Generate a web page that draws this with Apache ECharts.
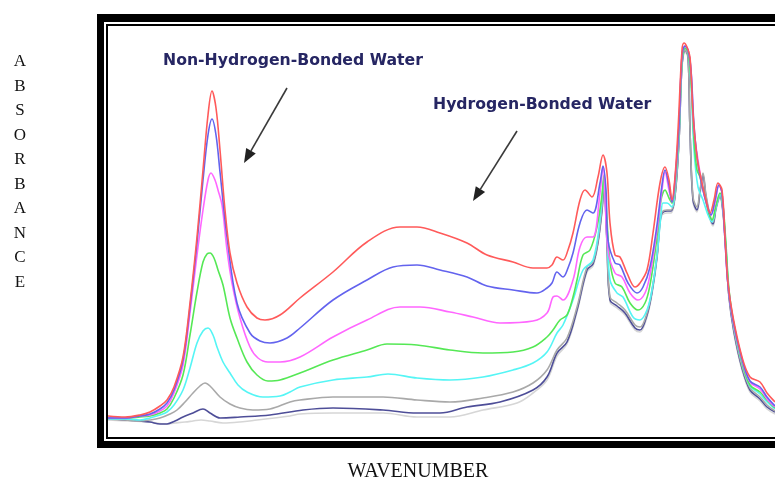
<!DOCTYPE html>
<html>
<head>
<meta charset="utf-8">
<script src="https://cdn.jsdelivr.net/npm/echarts@6/dist/echarts.min.js"></script>
<style>
html,body{margin:0;padding:0;background:#fff;}
#c{width:775px;height:481px;}
</style>
</head>
<body>
<div id="c"></div>
<script>
// x: wavenumber index (arbitrary units), y: absorbance (arbitrary units)
const seriesNames = ['S1','S2','S3','S4','S5','S6','S7','S8'];
const seriesColors = ['#ff5a5a','#6363ee','#ff66ff','#55e855','#55f5f5','#a9a9a9','#4e4e98','#d6d6d6'];

const red = [[0,21],[17,20],[32,22],[42,25],[52,31],[59,37],[66,50],[75,80],[82,134],[89,200],[95,267],[100,322],[104,346],[108,329],[112,287],[117,227],[122,184],[129,154],[139,130],[149,119],[157,117],[172,122],[192,139],[225,165],[259,195],[292,210],[309,210],[332,204],[359,194],[379,182],[405,175],[425,169],[439,169],[444,172],[449,180],[455,177],[460,187],[465,204],[472,237],[477,247],[484,240],[490,260],[495,282],[499,264],[502,214],[507,182],[512,180],[519,164],[527,150],[532,154],[539,167],[545,204],[552,254],[557,270],[561,257],[564,237],[567,260],[570,307],[574,387],[576,394],[579,390],[582,380],[585,324],[589,280],[594,254],[598,237],[602,224],[606,237],[610,254],[614,247],[617,200],[620,154],[625,120],[634,80],[642,60],[652,55],[659,44],[667,35]];

const blue = [[0,19],[17,19],[32,21],[42,23],[52,28],[59,34],[66,47],[75,77],[82,130],[89,194],[95,257],[100,302],[104,318],[108,302],[112,265],[119,200],[129,134],[142,104],[152,96],[162,94],[179,99],[192,109],[225,137],[259,157],[285,170],[309,172],[332,167],[359,160],[379,151],[405,147],[429,144],[439,149],[444,154],[449,165],[455,160],[460,169],[465,184],[472,214],[479,227],[485,224],[492,254],[495,271],[498,247],[500,197],[507,174],[512,172],[520,154],[529,144],[535,150],[542,170],[549,212],[554,252],[557,267],[561,252],[564,235],[567,257],[571,312],[574,382],[577,391],[580,387],[583,367],[586,312],[590,272],[595,247],[599,232],[603,222],[607,237],[611,252],[614,244],[617,197],[620,152],[625,117],[634,78],[642,56],[652,50],[659,40],[667,31]];

const magenta = [[0,19],[17,19],[32,21],[42,22],[52,26],[59,31],[66,44],[75,72],[82,124],[89,182],[95,227],[100,257],[103,264],[107,257],[110,247],[114,232],[119,187],[124,154],[132,119],[142,90],[150,79],[160,75],[172,75],[192,80],[225,100],[259,117],[292,130],[312,130],[342,125],[365,120],[392,114],[425,116],[439,124],[445,140],[449,141],[455,137],[465,157],[472,190],[479,200],[485,200],[492,244],[495,270],[500,187],[507,164],[514,160],[522,144],[530,137],[537,144],[542,162],[549,207],[554,247],[557,265],[561,247],[564,235],[567,255],[571,312],[574,382],[577,391],[580,387],[583,367],[586,307],[590,277],[595,247],[599,232],[603,222],[607,234],[611,252],[614,244],[617,197],[620,152],[625,117],[634,77],[642,55],[652,48],[659,38],[667,30]];

const green = [[0,19],[17,19],[32,20],[42,21],[52,24],[59,28],[66,39],[75,62],[82,102],[89,145],[95,175],[99,183],[102,184],[106,179],[110,167],[115,152],[122,119],[129,99],[139,75],[149,62],[160,56],[172,57],[192,64],[225,77],[259,87],[279,93],[309,92],[342,87],[375,84],[405,85],[425,90],[439,100],[445,107],[452,117],[459,122],[465,140],[469,157],[475,182],[482,187],[489,210],[494,242],[496,262],[499,217],[502,175],[507,154],[514,150],[522,134],[530,127],[537,134],[542,152],[548,192],[553,237],[557,247],[561,239],[564,234],[567,252],[571,307],[574,377],[577,389],[580,385],[583,357],[586,297],[589,267],[592,260],[596,244],[600,227],[604,217],[608,232],[612,244],[615,232],[618,192],[621,147],[626,112],[634,75],[642,52],[652,45],[659,37],[667,29]];

const cyan = [[0,18],[17,18],[32,17],[42,19],[52,22],[59,25],[66,32],[75,47],[82,69],[89,94],[95,106],[100,109],[105,102],[109,90],[115,75],[122,64],[130,52],[139,45],[155,40],[172,41],[182,45],[192,50],[225,57],[259,60],[280,63],[309,59],[342,57],[375,60],[405,67],[425,74],[439,85],[449,104],[455,112],[465,137],[475,167],[485,177],[492,217],[496,259],[499,207],[502,157],[509,144],[515,140],[525,120],[532,117],[539,127],[544,147],[549,182],[553,222],[555,234],[559,234],[564,230],[567,247],[571,302],[574,375],[577,389],[580,385],[583,352],[586,287],[590,250],[595,237],[600,222],[604,215],[608,230],[612,242],[615,229],[618,189],[621,145],[626,110],[634,74],[642,51],[652,43],[659,35],[667,28]];

const gray = [[0,18],[17,17],[32,16],[42,17],[52,19],[62,23],[69,27],[77,35],[85,44],[92,51],[97,54],[102,51],[112,40],[122,33],[132,29],[145,27],[162,28],[182,35],[192,37],[225,40],[275,40],[309,37],[342,35],[375,39],[405,45],[425,54],[439,67],[449,87],[459,99],[469,130],[479,170],[485,175],[490,197],[494,230],[496,255],[499,197],[502,140],[509,134],[517,127],[527,112],[532,110],[539,124],[544,147],[549,182],[552,217],[554,225],[559,227],[563,227],[567,242],[571,297],[574,372],[577,387],[580,382],[582,307],[585,240],[589,230],[592,247],[595,264],[598,242],[602,222],[605,215],[608,230],[612,242],[615,227],[618,187],[621,142],[626,107],[634,71],[642,49],[652,40],[659,32],[667,26]];

const navy = [[0,19],[17,17],[32,16],[42,15],[52,13],[59,13],[67,16],[75,20],[85,24],[95,28],[102,24],[112,19],[132,20],[162,22],[195,27],[225,29],[275,27],[309,24],[332,24],[359,30],[392,35],[425,47],[439,60],[449,84],[459,95],[469,127],[479,167],[485,173],[490,195],[494,227],[496,252],[499,194],[502,137],[509,131],[517,124],[527,109],[532,107],[539,122],[544,145],[549,180],[552,215],[554,224],[559,226],[563,226],[567,241],[571,297],[574,372],[577,387],[580,381],[582,307],[585,237],[589,227],[592,245],[595,262],[598,240],[602,220],[605,213],[608,229],[612,241],[615,225],[618,185],[621,140],[626,105],[634,69],[642,47],[652,38],[659,30],[667,25]];

const lightGray = [[0,17],[22,16],[42,15],[57,13],[67,14],[77,15],[85,16],[93,17],[102,16],[115,14],[132,15],[149,17],[182,21],[192,23],[225,24],[275,24],[309,20],[342,20],[375,27],[409,34],[425,44],[439,57],[449,81],[459,93],[469,125],[479,165],[485,171],[490,193],[494,225],[496,250],[499,192],[502,135],[509,129],[517,122],[527,107],[532,105],[539,120],[544,143],[549,178],[552,213],[554,222],[559,224],[563,224],[567,239],[571,295],[574,370],[577,385],[580,379],[582,305],[585,235],[589,225],[592,243],[595,260],[598,238],[602,218],[605,211],[608,227],[612,239],[615,223],[618,183],[621,138],[626,103],[634,67],[642,45],[652,36],[659,28],[667,23]];

const allData = [red, blue, magenta, green, cyan, gray, navy, lightGray];
const annotations = ['Non-Hydrogen-Bonded Water', 'Hydrogen-Bonded Water'];
const yTitle = 'ABSORBANCE';
const xTitle = 'WAVENUMBER';

const chart = echarts.init(document.getElementById('c'));

const series = [];
for (let i = allData.length - 1; i >= 0; i--) {
  series.push({
    name: seriesNames[i],
    type: 'line',
    data: allData[i],
    showSymbol: false,
    symbol: 'none',
    smooth: 0.35,
    lineStyle: { color: seriesColors[i], width: 1.6 },
    z: 5 + (allData.length - i),
    silent: true,
    animation: false
  });
}

const letters = yTitle.split('').map((ch, i) => ({
  type: 'text',
  style: { text: ch, x: 20, y: 62 + i * 24.5, fill: '#111', font: '17px "Liberation Serif", serif', textAlign: 'center', textVerticalAlign: 'middle' }
}));

function arrow(x1, y1, x2, y2) {
  const dx = x2 - x1, dy = y2 - y1, L = Math.sqrt(dx*dx + dy*dy);
  const ux = dx / L, uy = dy / L;
  const hl = 14, hw = 5.5;
  const bx = x2 - ux * hl, by = y2 - uy * hl;
  return [
    { type: 'line', shape: { x1: x1, y1: y1, x2: bx, y2: by }, style: { stroke: '#3a3a3a', lineWidth: 1.6 }, z: 20 },
    { type: 'polygon', shape: { points: [[x2, y2], [bx - uy * hw, by + ux * hw], [bx + uy * hw, by - ux * hw]] }, style: { fill: '#222' }, z: 20 }
  ];
}

const graphics = [
  { type: 'rect', shape: { x: 97, y: 14, width: 700, height: 434 }, style: { fill: '#000' }, z: -10, silent: true },
  { type: 'rect', shape: { x: 104, y: 22, width: 700, height: 419 }, style: { fill: '#fff' }, z: -9, silent: true },
  { type: 'rect', shape: { x: 107, y: 25, width: 700, height: 413 }, style: { fill: '#fff', stroke: '#000', lineWidth: 2 }, z: -8, silent: true },
  { type: 'text', style: { text: annotations[0], x: 163, y: 61, fill: '#262663', font: 'bold 15.7px "DejaVu Sans", sans-serif', textVerticalAlign: 'middle' }, z: 20 },
  { type: 'text', style: { text: annotations[1], x: 433, y: 104.5, fill: '#262663', font: 'bold 15.7px "DejaVu Sans", sans-serif', textVerticalAlign: 'middle' }, z: 20 },
  { type: 'text', style: { text: xTitle, x: 418, y: 472, fill: '#111', font: '20px "Liberation Serif", serif', textAlign: 'center', textVerticalAlign: 'middle' }, z: 20 }
].concat(letters).concat(arrow(287, 88, 244, 163)).concat(arrow(517, 131, 473, 201));

chart.setOption({
  animation: false,
  backgroundColor: '#fff',
  grid: { left: 108, right: 0, top: 26, bottom: 44, containLabel: false },
  xAxis: { type: 'value', min: 0, max: 667, show: false },
  yAxis: { type: 'value', min: 0, max: 411, show: false },
  graphic: graphics,
  series: series
});
</script>
</body>
</html>
